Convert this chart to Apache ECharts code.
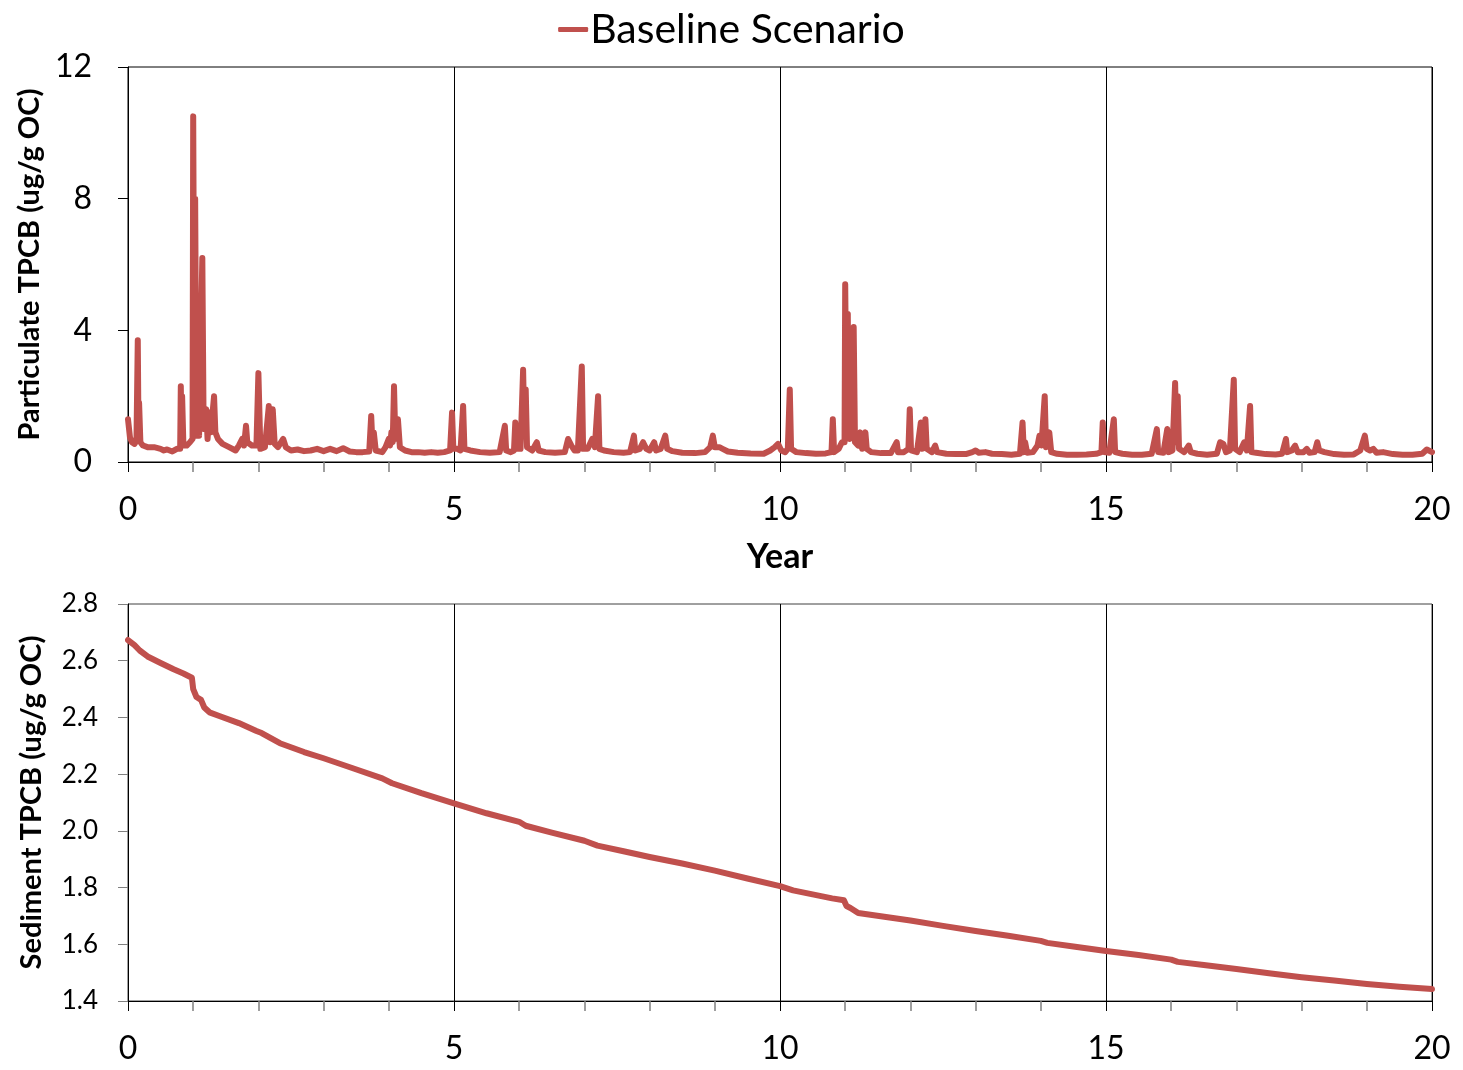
<!DOCTYPE html>
<html>
<head>
<meta charset="utf-8">
<script src="https://cdn.jsdelivr.net/npm/echarts@6/dist/echarts.min.js"></script>
<style>
  html, body { margin: 0; padding: 0; background: #fff; }
  #main { width: 1463px; height: 1070px; }
</style>
</head>
<body>
<div id="main"></div>
<script>
// Particulate TPCB (ug/g OC) - year / value
var partYears = [0.00,0.03,0.06,0.10,0.13,0.15,0.16,0.17,0.19,0.23,0.30,0.40,0.50,0.55,0.60,0.68,0.75,0.80,0.81,0.82,0.83,0.85,0.90,0.95,0.99,
	1.00,1.02,1.03,1.05,1.07,1.09,1.14,1.16,1.20,1.22,1.25,1.27,1.32,1.34,1.38,1.45,1.55,1.65,1.70,1.75,1.78,1.81,1.83,1.90,1.97,
	2.00,2.03,2.10,2.16,2.18,2.22,2.25,2.30,2.38,2.42,2.50,2.60,2.70,2.80,2.90,3.00,3.10,3.20,3.30,3.40,3.50,3.60,3.70,3.73,3.75,3.77,3.80,3.90,3.95,
	4.00,4.02,4.04,4.06,4.08,4.10,4.14,4.17,4.25,4.35,4.45,4.55,4.65,4.75,4.85,4.94,4.97,4.99,
	5.05,5.10,5.14,5.16,5.25,5.40,5.55,5.70,5.78,5.80,5.87,5.92,5.94,5.96,
	6.02,6.06,6.08,6.10,6.12,6.20,6.27,6.30,6.40,6.55,6.70,6.75,6.80,6.85,6.90,6.96,6.98,
	7.05,7.12,7.16,7.21,7.23,7.30,7.45,7.60,7.70,7.76,7.78,7.85,7.90,7.95,
	8.00,8.07,8.10,8.17,8.24,8.27,8.35,8.50,8.70,8.85,8.93,8.97,
	9.00,9.07,9.12,9.20,9.35,9.55,9.75,9.85,9.92,9.97,
	10.02,10.08,10.12,10.15,10.17,10.25,10.40,10.55,10.70,10.79,10.81,10.83,10.90,10.95,10.99,
	11.00,11.02,11.04,11.05,11.07,11.10,11.13,11.15,11.20,11.23,11.26,11.31,11.33,11.40,11.55,11.70,11.79,11.81,11.90,11.97,11.99,
	12.01,12.10,12.16,12.18,12.23,12.25,12.33,12.38,12.41,12.55,12.70,12.85,12.95,
	13.00,13.05,13.15,13.25,13.40,13.55,13.68,13.72,13.74,13.76,13.79,13.88,13.95,13.98,
	14.01,14.06,14.08,14.13,14.16,14.25,14.40,14.55,14.70,14.85,14.93,14.95,14.97,
	15.05,15.12,15.14,15.25,15.40,15.55,15.70,15.78,15.80,15.88,15.94,15.96,
	16.02,16.06,16.08,16.10,16.12,16.20,16.27,16.30,16.40,16.55,16.70,16.75,16.80,16.84,16.90,16.96,16.98,
	17.05,17.12,17.16,17.21,17.23,17.30,17.45,17.60,17.70,17.76,17.78,17.85,17.90,17.94,
	18.03,18.08,18.12,18.20,18.24,18.27,18.35,18.50,18.65,18.80,18.90,18.97,
	19.00,19.05,19.10,19.15,19.25,19.40,19.55,19.70,19.85,19.92,20.00];
var partValues = [1.30,0.75,0.60,0.55,0.65,3.70,1.20,1.80,0.60,0.50,0.45,0.45,0.40,0.35,0.38,0.32,0.40,0.40,2.30,0.80,2.00,0.50,0.50,0.60,0.70,
	10.50,1.20,8.00,0.80,3.30,0.80,6.20,1.00,1.60,0.70,1.50,0.90,2.00,0.90,0.70,0.55,0.45,0.35,0.50,0.70,0.50,1.10,0.60,0.50,0.50,
	2.70,0.40,0.45,1.70,0.60,1.60,0.55,0.45,0.70,0.45,0.35,0.38,0.33,0.35,0.40,0.33,0.40,0.33,0.42,0.32,0.30,0.30,0.32,1.40,0.50,0.90,0.35,0.30,0.45,
	0.70,0.50,0.90,0.60,2.30,0.70,1.30,0.45,0.35,0.30,0.30,0.28,0.30,0.28,0.30,0.35,1.50,0.40,
	0.40,0.35,1.70,0.40,0.35,0.30,0.28,0.30,1.10,0.35,0.30,0.35,1.20,0.40,
	0.40,2.80,0.80,2.20,0.45,0.35,0.60,0.35,0.30,0.28,0.30,0.70,0.50,0.35,0.35,2.90,0.40,
	0.40,0.70,0.45,2.00,0.40,0.35,0.30,0.28,0.30,0.80,0.35,0.40,0.60,0.40,
	0.35,0.60,0.35,0.40,0.80,0.40,0.33,0.28,0.27,0.30,0.45,0.80,
	0.45,0.45,0.40,0.32,0.28,0.26,0.25,0.35,0.45,0.55,
	0.35,0.30,0.40,2.20,0.40,0.30,0.27,0.25,0.26,0.30,1.30,0.30,0.40,0.60,0.60,
	5.40,1.20,4.50,1.80,0.70,0.80,4.10,0.60,0.50,0.90,0.40,0.90,0.40,0.30,0.27,0.27,0.60,0.30,0.30,0.40,1.60,
	0.35,0.30,1.20,0.40,1.30,0.40,0.30,0.50,0.30,0.25,0.24,0.24,0.30,
	0.35,0.28,0.30,0.25,0.24,0.22,0.25,1.20,0.30,0.60,0.28,0.30,0.50,0.80,
	0.50,2.00,0.45,0.90,0.30,0.25,0.22,0.22,0.23,0.25,0.30,1.20,0.30,
	0.28,1.30,0.30,0.25,0.22,0.22,0.25,1.00,0.30,0.28,1.00,0.30,
	0.35,2.40,0.60,2.00,0.40,0.30,0.50,0.30,0.25,0.22,0.25,0.60,0.55,0.30,0.35,2.50,0.40,
	0.30,0.60,0.35,1.70,0.30,0.28,0.24,0.23,0.25,0.70,0.30,0.35,0.50,0.30,
	0.30,0.40,0.28,0.30,0.60,0.35,0.30,0.24,0.22,0.23,0.35,0.80,
	0.40,0.35,0.40,0.28,0.30,0.24,0.22,0.22,0.25,0.38,0.30];

// Sediment TPCB (ug/g OC) - year / value
var sedYears = [0.00,0.10,0.18,0.30,0.50,0.70,0.85,0.98,1.00,1.05,1.12,1.17,1.25,1.40,1.70,1.97,2.05,2.33,2.70,3.00,3.46,3.90,4.05,4.50,
	5.00,5.50,6.00,6.10,6.50,7.00,7.20,7.60,8.00,8.50,9.00,9.50,10.00,10.20,10.50,10.80,10.98,11.02,11.08,11.20,11.60,
	12.00,12.50,13.00,13.50,14.00,14.10,14.50,15.00,15.50,16.00,16.10,16.50,17.00,17.50,18.00,18.50,19.00,19.50,20.00];
var sedValues = [2.673,2.655,2.636,2.615,2.592,2.570,2.555,2.540,2.500,2.472,2.462,2.435,2.418,2.405,2.380,2.352,2.345,2.309,2.278,2.256,2.220,2.185,2.168,2.133,
	2.097,2.062,2.032,2.018,1.994,1.965,1.948,1.928,1.908,1.885,1.860,1.832,1.805,1.790,1.776,1.762,1.755,1.735,1.728,1.710,1.697,
	1.684,1.665,1.647,1.630,1.612,1.605,1.592,1.576,1.562,1.546,1.538,1.527,1.513,1.498,1.484,1.472,1.460,1.450,1.442];

var seriesName = 'Baseline Scenario';
var lineColor = '#c0504d';
var fontName = 'Lato, "Open Sans", sans-serif';

function pairs(xs, ys) {
	var out = [];
	for (var i = 0; i < xs.length; i++) {
		out.push([xs[i], ys[i]]);
	}
	return out;
}

function xAxisCfg(gridIdx, name) {
	return {
		type: 'value',
		gridIndex: gridIdx,
		min: 0,
		max: 20,
		interval: 5,
		name: name,
		nameLocation: 'middle',
		nameGap: 78,
		nameTextStyle: { fontSize: 34, fontWeight: 'bold', color: '#000', fontFamily: fontName },
		axisLine: { lineStyle: { color: '#000', width: 1 } },
		axisTick: { show: true, length: 10, lineStyle: { color: '#000' } },
		minorTick: { show: true, splitNumber: 5, length: 10, lineStyle: { color: '#808080', width: 1.5 } },
		splitLine: { show: true, lineStyle: { color: '#000', width: 1 } },
		axisLabel: { fontSize: 32, color: '#000', margin: 32, fontFamily: fontName }
	};
}

var option = {
	backgroundColor: '#fff',
	animation: false,
	legend: {
		top: 4,
		left: 'center',
		icon: 'roundRect',
		itemWidth: 30,
		itemHeight: 5,
		itemGap: 4,
		textStyle: { fontSize: 41, color: '#000', fontFamily: fontName, padding: [0, 0, 0, -3] },
		data: [seriesName]
	},
	grid: [
		{ left: 128, right: 31, top: 67, height: 395, show: true, borderColor: '#000', borderWidth: 1 },
		{ left: 128, right: 31, top: 604, height: 397, show: true, borderColor: '#404040', borderWidth: 1 }
	],
	xAxis: [xAxisCfg(0, 'Year'), xAxisCfg(1, '')],
	yAxis: [{
		type: 'value',
		gridIndex: 0,
		min: 0,
		max: 12,
		interval: 4,
		name: 'Particulate TPCB (ug/g OC)',
		nameLocation: 'middle',
		nameGap: 82,
		nameTextStyle: { fontSize: 29, fontWeight: 'bold', color: '#000', fontFamily: fontName },
		axisLine: { show: true, lineStyle: { color: '#000' } },
		axisTick: { show: true, length: 10, lineStyle: { color: '#000' } },
		splitLine: { show: false },
		axisLabel: { fontSize: 32, color: '#000', margin: 36, fontFamily: fontName }
	}, {
		type: 'value',
		gridIndex: 1,
		min: 1.4,
		max: 2.8,
		interval: 0.2,
		name: 'Sediment TPCB (ug/g OC)',
		nameLocation: 'middle',
		nameGap: 82,
		nameTextStyle: { fontSize: 29, fontWeight: 'bold', color: '#000', fontFamily: fontName },
		axisLine: { show: true, lineStyle: { color: '#000' } },
		axisTick: { show: true, length: 10, lineStyle: { color: '#808080' } },
		splitLine: { show: false },
		axisLabel: {
			fontSize: 26, color: '#000', margin: 30, fontFamily: fontName,
			formatter: function(v) { return v.toFixed(1); }
		}
	}],
	series: [{
		name: seriesName,
		type: 'line',
		xAxisIndex: 0,
		yAxisIndex: 0,
		symbol: 'none',
		lineStyle: { color: lineColor, width: 6, cap: 'round', join: 'round' },
		itemStyle: { color: lineColor },
		data: pairs(partYears, partValues)
	}, {
		name: seriesName,
		type: 'line',
		xAxisIndex: 1,
		yAxisIndex: 1,
		symbol: 'none',
		lineStyle: { color: lineColor, width: 6, cap: 'round', join: 'round' },
		itemStyle: { color: lineColor },
		data: pairs(sedYears, sedValues)
	}]
};

var chart = echarts.init(document.getElementById('main'));
chart.setOption(option);
</script>
</body>
</html>
